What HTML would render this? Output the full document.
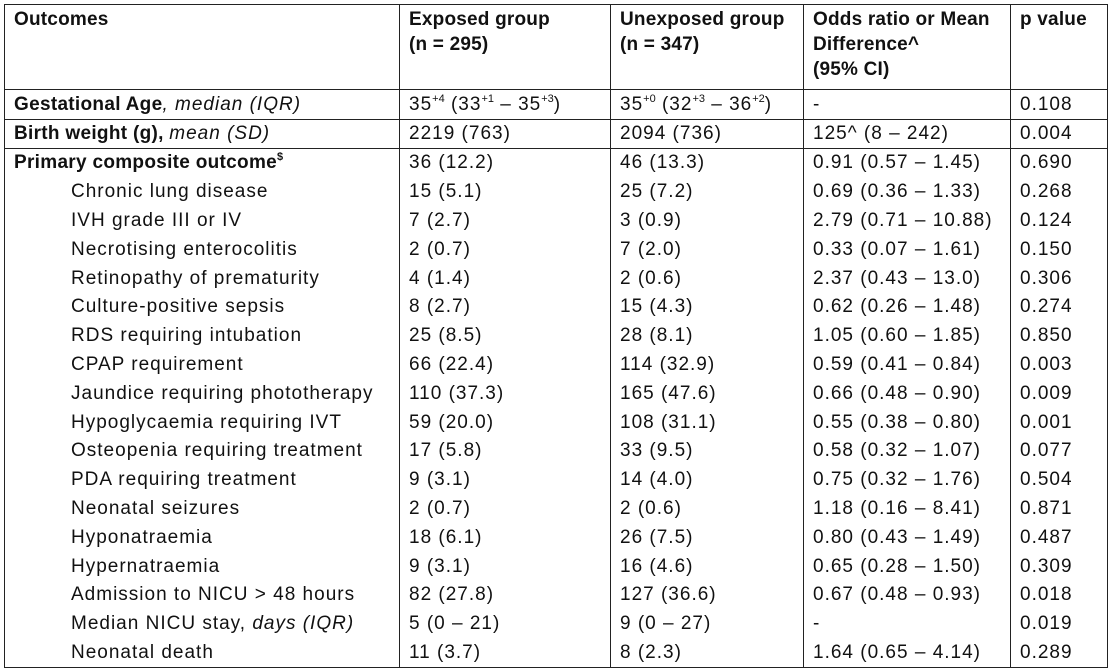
<!DOCTYPE html>
<html><head><style>
body{margin:0;background:#fff;width:1111px;height:672px;overflow:hidden;font-family:"Liberation Sans",Arial,sans-serif;color:#111}
table{position:absolute;left:4px;top:4px;border-collapse:collapse;table-layout:fixed;width:1103px}
td{border-left:1px solid #222;border-right:1px solid #222;padding:0 0 0 9px;font-size:19px;white-space:nowrap;vertical-align:middle;letter-spacing:1px;overflow:hidden}
tr.h td{vertical-align:top;font-weight:bold;height:82px;padding-top:2px;line-height:25px;border-top:1px solid #222;border-bottom:1px solid #222;letter-spacing:0.2px}
tr.b td{border-bottom:1px solid #222}
tr.r td{height:28.8px}
tr.last td{border-bottom:1px solid #222}
b{letter-spacing:0.3px}
.i{padding-left:66px}
sup{font-size:11px;vertical-align:8px;line-height:0;letter-spacing:0}
</style></head><body>
<table>
<colgroup><col style="width:395px"><col style="width:211px"><col style="width:193px"><col style="width:207px"><col style="width:97px"></colgroup>
<tr class="h"><td>Outcomes</td><td>Exposed group<br>(n = 295)</td><td>Unexposed group<br>(n = 347)</td><td>Odds ratio or Mean<br>Difference^<br>(95% CI)</td><td>p value</td></tr>
<tr class="b" style="height:30px"><td><b>Gestational Age</b><i>, median (IQR)</i></td><td>35<sup>+4</sup> (33<sup>+1</sup> – 35<sup>+3</sup>)</td><td>35<sup>+0</sup> (32<sup>+3</sup> – 36<sup>+2</sup>)</td><td>-</td><td>0.108</td></tr>
<tr class="b" style="height:29px"><td><b>Birth weight (g), </b><i>mean (SD)</i></td><td>2219 (763)</td><td>2094 (736)</td><td>125^ (8 – 242)</td><td>0.004</td></tr>
<tr class="r"><td><b>Primary composite outcome<sup>$</sup></b></td><td>36 (12.2)</td><td>46 (13.3)</td><td>0.91 (0.57 – 1.45)</td><td>0.690</td></tr>
<tr class="r"><td class="i">Chronic lung disease</td><td>15 (5.1)</td><td>25 (7.2)</td><td>0.69 (0.36 – 1.33)</td><td>0.268</td></tr>
<tr class="r"><td class="i">IVH grade III or IV</td><td>7 (2.7)</td><td>3 (0.9)</td><td>2.79 (0.71 – 10.88)</td><td>0.124</td></tr>
<tr class="r"><td class="i">Necrotising enterocolitis</td><td>2 (0.7)</td><td>7 (2.0)</td><td>0.33 (0.07 – 1.61)</td><td>0.150</td></tr>
<tr class="r"><td class="i">Retinopathy of prematurity</td><td>4 (1.4)</td><td>2 (0.6)</td><td>2.37 (0.43 – 13.0)</td><td>0.306</td></tr>
<tr class="r"><td class="i">Culture-positive sepsis</td><td>8 (2.7)</td><td>15 (4.3)</td><td>0.62 (0.26 – 1.48)</td><td>0.274</td></tr>
<tr class="r"><td class="i">RDS requiring intubation</td><td>25 (8.5)</td><td>28 (8.1)</td><td>1.05 (0.60 – 1.85)</td><td>0.850</td></tr>
<tr class="r"><td class="i">CPAP requirement</td><td>66 (22.4)</td><td>114 (32.9)</td><td>0.59 (0.41 – 0.84)</td><td>0.003</td></tr>
<tr class="r"><td class="i">Jaundice requiring phototherapy</td><td>110 (37.3)</td><td>165 (47.6)</td><td>0.66 (0.48 – 0.90)</td><td>0.009</td></tr>
<tr class="r"><td class="i">Hypoglycaemia requiring IVT</td><td>59 (20.0)</td><td>108 (31.1)</td><td>0.55 (0.38 – 0.80)</td><td>0.001</td></tr>
<tr class="r"><td class="i">Osteopenia requiring treatment</td><td>17 (5.8)</td><td>33 (9.5)</td><td>0.58 (0.32 – 1.07)</td><td>0.077</td></tr>
<tr class="r"><td class="i">PDA requiring treatment</td><td>9 (3.1)</td><td>14 (4.0)</td><td>0.75 (0.32 – 1.76)</td><td>0.504</td></tr>
<tr class="r"><td class="i">Neonatal seizures</td><td>2 (0.7)</td><td>2 (0.6)</td><td>1.18 (0.16 – 8.41)</td><td>0.871</td></tr>
<tr class="r"><td class="i">Hyponatraemia</td><td>18 (6.1)</td><td>26 (7.5)</td><td>0.80 (0.43 – 1.49)</td><td>0.487</td></tr>
<tr class="r"><td class="i">Hypernatraemia</td><td>9 (3.1)</td><td>16 (4.6)</td><td>0.65 (0.28 – 1.50)</td><td>0.309</td></tr>
<tr class="r"><td class="i">Admission to NICU &gt; 48 hours</td><td>82 (27.8)</td><td>127 (36.6)</td><td>0.67 (0.48 – 0.93)</td><td>0.018</td></tr>
<tr class="r"><td class="i">Median NICU stay, <i>days (IQR)</i></td><td>5 (0 – 21)</td><td>9 (0 – 27)</td><td>-</td><td>0.019</td></tr>
<tr class="r last"><td class="i">Neonatal death</td><td>11 (3.7)</td><td>8 (2.3)</td><td>1.64 (0.65 – 4.14)</td><td>0.289</td></tr>
</table>
</body></html>
